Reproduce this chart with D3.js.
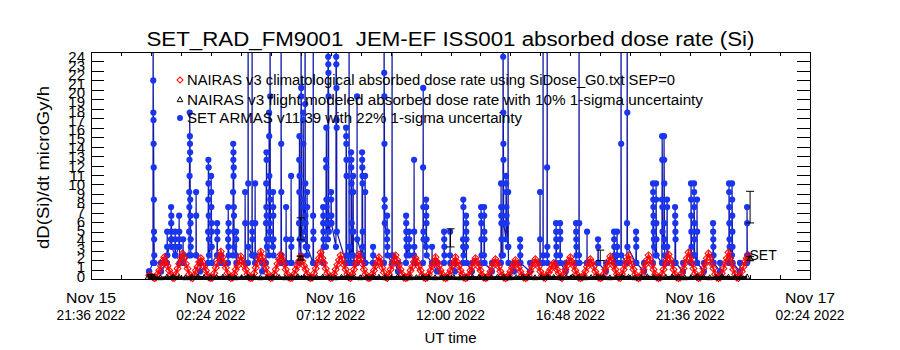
<!DOCTYPE html>
<html>
<head>
<meta charset="utf-8">
<script src="https://cdn.jsdelivr.net/npm/d3@7"></script>
<style>
body { margin: 0; background: #fff; }
text { font-family: "Liberation Sans", Arial, sans-serif; fill: #000; white-space: pre; }
</style>
</head>
<body>
<svg id="chart" width="900" height="350"></svg>
<script>
// ---- data (minutes after 2022-11-16 00:00 UT) ----
var axisStart = "2022-11-15T21:36:00Z";
var axisEnd = "2022-11-17T02:24:00Z";
var dayZero = Date.UTC(2022, 10, 16, 0, 0);

var titleText = "SET_RAD_FM9001  JEM-EF ISS001 absorbed dose rate (Si)";
var yTitle = "dD(Si)/dt microGy/h";
var xTitle = "UT time";
var legendLabels = [
  "NAIRAS v3 climatological absorbed dose rate using SiDose_G0.txt SEP=0",
  "NAIRAS v3 flight modeled absorbed dose rate with 10% 1-sigma uncertainty",
  "SET ARMAS v11.39 with 22% 1-sigma uncertainty"
];
var yTickValues = [0,1,2,3,4,5,6,7,8,9,10,11,12,13,14,15,16,17,18,19,20,21,22,23,24];
var xLabelTimes = ["2022-11-15T21:36:00Z","2022-11-16T02:24:00Z","2022-11-16T07:12:00Z",
  "2022-11-16T12:00:00Z","2022-11-16T16:48:00Z","2022-11-16T21:36:00Z","2022-11-17T02:24:00Z"];
var xMinorStepMin = 72;

// NAIRAS climatological, one value every 4 min from -4 min
var climStartMin = -4, climStepMin = 4;
var nairasClim = [
  0.4,0.3,0.2,0.1,0.15,0.5,0.9,1.4,1.9,
  2.3,1.8,1.4,0.9,0.5,0.15,0.1,0.5,1.1,1.6,2.2,
  2.7,2.2,1.6,1.1,0.5,0.15,0.1,0.4,0.9,1.3,1.8,
  2.2,1.8,1.3,0.9,0.4,0.15,0.1,0.15,0.6,1.2,1.7,2.3,
  2.9,2.3,1.7,1.2,0.6,0.2,0.1,0.15,0.5,1.0,1.4,1.9,
  2.4,1.9,1.4,1.0,0.5,0.15,0.1,0.15,0.6,1.2,1.7,2.3,
  2.9,2.3,1.7,1.2,0.6,0.2,0.1,0.15,0.5,1.0,1.6,2.1,
  2.6,2.1,1.6,1.0,0.5,0.15,0.1,0.15,0.5,1.0,1.4,1.9,
  2.4,1.9,1.4,1.0,0.5,0.15,0.1,0.15,0.6,1.1,1.7,2.2,
  2.8,2.2,1.7,1.1,0.6,0.2,0.1,0.15,0.5,1.0,1.5,2.0,
  2.5,2.0,1.5,1.0,0.5,0.15,0.1,0.5,1.0,1.6,2.1,
  2.6,2.1,1.6,1.0,0.5,0.15,0.1,0.15,0.5,0.9,1.4,1.8,
  2.3,1.8,1.2,0.7,0.2,0.1,0.5,1.0,1.5,2.0,
  2.5,2.0,1.5,1.0,0.5,0.15,0.1,0.15,0.4,0.9,1.3,1.8,
  2.2,1.8,1.3,0.9,0.4,0.15,0.1,0.15,0.5,0.9,1.4,1.8,
  2.3,1.8,1.4,0.9,0.5,0.15,0.1,0.15,0.5,0.9,1.4,1.8,
  2.3,1.8,1.4,0.9,0.5,0.15,0.1,0.15,0.4,0.9,1.3,1.8,
  2.2,1.8,1.3,0.9,0.4,0.15,0.1,0.15,0.4,0.8,1.3,1.7,
  2.1,1.7,1.3,0.8,0.4,0.15,0.1,0.15,0.4,0.8,1.2,1.6,
  2.0,1.6,1.2,0.8,0.4,0.15,0.1,0.15,0.4,0.8,1.3,1.7,
  2.1,1.7,1.3,0.8,0.4,0.15,0.1,0.35,0.7,1.0,1.4,
  1.7,1.4,1.0,0.6,0.2,0.1,0.5,1.0,1.4,1.9,
  2.3,1.8,1.4,0.9,0.5,0.15,0.1,0.15,0.4,0.8,1.3,1.7,
  2.1,1.7,1.3,0.8,0.4,0.15,0.1,0.15,0.5,1.0,1.4,1.9,
  2.4,1.9,1.4,1.0,0.5,0.15,0.1,0.5,1.0,1.5,2.0,
  2.5,2.0,1.5,1.0,0.5,0.15,0.1,0.15,0.5,1.0,1.5,2.0,
  2.5,2.0,1.5,1.0,0.5,0.15,0.1,0.15,0.5,1.0,1.6,2.1,
  2.6,2.1,1.6,1.0,0.5,0.15,0.1,0.15,0.6,1.1,1.7,2.2,
  2.8,2.2,1.7,1.1,0.6,0.2,0.1,0.15,0.5,1.1,1.6,2.2,
  2.7,2.2,1.6,1.1,0.5,0.15,0.1,0.15,0.6,1.1,1.7,2.2,
  2.8,2.2,1.6,1.0,0.5,0.15,0.1,0.3,0.8,1.3,1.8,2.2,2.5
];

// NAIRAS flight modeled, one value every 15 min from -7 min
var flightStartMin = -7, flightStepMin = 15;
var nairasFlight = [
  0.15,0.12,0.1,0.14,0.18,0.12,0.1,0.15,0.2,0.14,0.1,0.12,0.18,0.15,0.1,0.12,
  0.2,0.15,0.1,0.12,0.18,0.14,0.1,0.12,0.2,0.15,0.1,0.14,0.18,0.12,0.1,0.15,
  0.2,0.14,0.1,0.12,0.18,0.15,0.1,0.12,0.18,0.14,0.1,0.12,0.16,0.14,0.1,0.12,
  0.16,0.12,0.1,0.12,0.15,0.12,0.1,0.12,0.16,0.14,0.1,0.12,0.18,0.14,0.1,0.12,
  0.18,0.15,0.1,0.14,0.2,0.15,0.1,0.12,0.2,0.15,0.1,0.14,0.2,0.16,0.1,0.14,
  0.2,0.15,0.1,0.14,0.2,0.16,0.1,0.14,0.22,0.16,0.1,0.14,0.2,0.16,0.12,0.14,0.18
];

// SET ARMAS: bursts [start minute, successive readings], readings 0.3 min apart
var armasStepMin = 0.3;
var armasBursts = [
  [-4.6,[0.8,0.8]],
  [5.0,[1.7,40,21.0,17.6,16.8,14.3,11.8,8.4,5.0,4.2,2.5,1.7]],
  [24.2,[1.7,0.8]],
  [38.6,[1.7,3.4,5.0,2.5]],
  [48.2,[4.2,7.6,5.9,6.7,5.0,4.2,3.4]],
  [57.9,[2.5,5.0,4.2,3.4,2.5]],
  [67.5,[3.4,6.7,5.0,4.2,3.4,1.7]],
  [77.1,[2.5,4.2,1.7]],
  [91.5,[2.5,5.0,9.2,7.6,12.6,10.9,17.6,15.1,14.3,13.4,8.4,6.7,5.9,4.2,3.4,2.5]],
  [108.3,[2.5,9.2,6.7,2.5]],
  [117.9,[1.7,0.8]],
  [137.2,[1.7,5.0,8.4,12.6,10.1,11.8,6.7,4.2,2.5]],
  [144.4,[3.4,10.9,9.2,7.6,5.9,5.0,3.4,1.7]],
  [158.8,[2.5,5.9,5.0,4.2,2.5]],
  [168.4,[1.7,2.5,1.7]],
  [185.2,[1.7,4.2,7.6,5.0,3.4,5.9,2.5]],
  [197.2,[2.5,9.2,14.3,12.6,13.4,10.9,11.8,7.6,6.7,5.0,3.4]],
  [204.4,[2.5,5.0,4.2,1.7]],
  [226.1,[1.7,9.2,5.9,1.7]],
  [233.3,[1.7,38,10.1,3.4]],
  [242.9,[2.5,36,5.9,5.0,4.2,2.5]],
  [250.1,[1.7,10.1,5.9,2.5]],
  [266.9,[1.7,0.8]],
  [276.5,[1.7,5.9,10.1,7.6,13.4,12.6,6.7,4.2,3.4]],
  [283.7,[2.5,17.6,15.1,10.9,9.2,5.9]],
  [286.1,[5.0,40,19.3,8.4,4.2]],
  [293.3,[3.4,9.2,7.6,6.7,4.2,2.5]],
  [312.6,[1.7,37,14.3,9.2,2.5]],
  [324.6,[1.7,7.6,4.2,1.7]],
  [336.6,[1.7,10.9,4.2,3.4,1.7]],
  [355.8,[1.7,5.9,12.6,9.2,15.1,10.9,4.2]],
  [360.6,[2.5,39,20.2,19.3,5.9,4.2]],
  [365.4,[4.2,17.6,16.8,14.3,8.4,7.6]],
  [370.2,[5.0,41,18.5,10.1,6.7,5.9,3.4]],
  [375.0,[2.5,9.2,7.6,3.4]],
  [389.5,[1.7,6.7,36,5.0,4.2,1.7]],
  [413.5,[1.7,7.6,5.9,6.7,5.0,4.2,3.4]],
  [420.7,[3.4,12.6,11.8,16.0,8.4,7.6,5.9]],
  [425.5,[4.2,45,23.5,22.7,21.8,19.3,6.7,5.0]],
  [432.7,[5.9,9.2,8.4,6.7,5.9]],
  [444.7,[3.4,42,23.5,22.7,20.2,16.8,16.0,5.0]],
  [468.8,[1.7,16.0,15.1,14.3,12.6,10.9,2.5]],
  [476.0,[1.7,38,3.4]],
  [480.8,[1.7,13.4,11.8,12.6,10.1,9.2,5.9,5.0,2.5]],
  [485.6,[2.5,10.9,9.2,5.0,1.7]],
  [495.2,[1.7,19.3,4.2]],
  [507.2,[2.5,13.4,12.6,11.8,10.9,10.1,5.0,3.4,2.5]],
  [514.4,[1.7,10.9,9.2,1.7]],
  [533.6,[1.7,3.4,2.5]],
  [560.1,[1.7,38,21.8,19.3,14.3,8.4,7.6,5.9]],
  [567.3,[4.2,6.7,5.0,3.4,2.5]],
  [579.3,[1.7,35,2.5]],
  [593.7,[0.8,1.7]],
  [613.0,[1.7,6.7,5.9,5.0,4.2,3.4,2.5]],
  [620.2,[3.4,5.0,4.2,2.5]],
  [632.2,[2.5,12.6,5.0,3.4,1.7]],
  [653.8,[1.7,11.8,20.2,7.6,5.0,4.2]],
  [661.0,[3.4,8.4,7.6,6.7,5.9,4.2,2.5]],
  [675.4,[1.7,3.4,1.7]],
  [687.5,[0.8,1.7]],
  [704.3,[1.7,5.0,4.2,3.4,2.5]],
  [718.7,[2.5,5.0,1.7]],
  [730.7,[0.8,1.7]],
  [749.9,[1.7,4.2,3.4,8.4,7.6,2.5]],
  [757.1,[3.4,6.7,5.9,5.0,4.2,1.7]],
  [771.5,[0.8,1.7]],
  [793.2,[1.7,7.6,6.7,5.9,4.2,2.5]],
  [800.4,[2.5,7.6,6.7,5.0,4.2,1.7]],
  [819.6,[0.8,1.7]],
  [841.2,[1.7,10.1,7.6,6.7,5.9,4.2,2.5]],
  [846.0,[2.5,40,23.5,17.6,14.3,12.6,5.9]],
  [853.2,[4.2,10.9,10.1,9.2,7.6,6.7,5.9]],
  [858.1,[3.4,38,9.2,3.4,1.7]],
  [872.5,[0.8,1.7]],
  [886.9,[1.7,4.2,3.4,2.5,1.7]],
  [911.0,[0.8,1.7]],
  [934.9,[1.7,9.2,4.2,1.7]],
  [942.2,[1.7,37,2.5]],
  [951.8,[2.5,11.8,36,3.4,1.7]],
  [973.4,[1.7,5.9,5.0,4.2,3.4,2.5]],
  [983.0,[2.5,5.9,5.0,4.2,1.7]],
  [997.0,[0.8,1.7]],
  [1021.5,[1.7,5.9,5.0,4.2,3.4,2.5]],
  [1028.7,[2.5,40,5.9,1.7]],
  [1047.9,[1.7,5.0,1.7]],
  [1074.3,[1.7,4.2,3.4,1.7]],
  [1093.5,[0.8,1.7]],
  [1112.8,[1.7,5.0,4.2,3.4,2.5,1.7]],
  [1120.0,[2.5,5.0,3.4,1.7]],
  [1129.6,[1.7,42,14.3,2.5]],
  [1144.0,[1.7,5.9,39,17.6,3.4]],
  [1165.6,[1.7,5.0,4.2,3.4,1.7]],
  [1185.0,[0.8,1.7]],
  [1206.5,[1.7,10.1,9.2,8.4,7.6,6.7,5.9,5.0,4.2,3.4]],
  [1213.7,[2.5,10.1,8.4,5.9,4.2,2.5]],
  [1228.1,[1.7,8.4,15.1,12.6,7.6,5.0]],
  [1232.9,[3.4,15.1,12.6,10.1,5.9,4.2,2.5]],
  [1240.1,[1.7,8.4,7.6,3.4,1.7]],
  [1259.4,[1.7,7.6,6.7,5.9,5.0,4.2,1.7]],
  [1278.7,[0.8,1.7]],
  [1297.8,[1.7,10.1,8.4,6.7,5.0,3.4,2.5]],
  [1305.0,[2.5,10.1,9.2,7.6,5.9,4.2,2.5]],
  [1312.2,[1.7,8.4,5.0,1.7]],
  [1329.0,[0.8,1.7]],
  [1350.7,[1.7,5.9,5.0,4.2,3.4,2.5,1.7]],
  [1367.6,[0.8,1.7]],
  [1389.1,[1.7,10.1,9.2,7.6,5.9,4.2,3.4]],
  [1396.3,[2.5,10.1,8.4,6.7,5.0,3.4,1.7]],
  [1415.6,[0.8,1.7]],
  [1432.4,[1.7,7.6,5.9,2.5,1.8,2.5]]
];

// points shown with error bars
var setBarMin = [0, 360, 720, 1080, 1440];
var setBarDose = [0.4, 5.3, 4.35, 2.5, 7.6];
var setSigma = 0.22;
var flightBarMin = [360, 1440];
var flightBarDose = [2.2, 2.15];
var flightSigma = 0.10;

// ---- layout ----
var padL = 91, padR = 810, padT = 52, padB = 279;

var svg = d3.select("#chart");

var x = d3.scaleUtc()
    .domain([new Date(axisStart), new Date(axisEnd)])
    .range([padL, padR]);
var y = d3.scaleLinear().domain([0, 24]).range([padB, padT]);

function tm(m) { return new Date(dayZero + m * 60000); }

svg.append("defs").append("clipPath").attr("id", "plotclip")
    .append("rect")
    .attr("x", padL).attr("y", padT)
    .attr("width", padR - padL).attr("height", padB - padT + 8);

var plot = svg.append("g").attr("clip-path", "url(#plotclip)");

// SET ARMAS series
var armas = [];
armasBursts.forEach(function(b) {
    b[1].forEach(function(v, i) {
        armas.push({t: tm(b[0] + i * armasStepMin), v: v});
    });
});

var line = d3.line()
    .x(function(d) { return x(d.t); })
    .y(function(d) { return y(d.v); });

plot.append("path")
    .datum(armas)
    .attr("d", line)
    .attr("fill", "none")
    .attr("stroke", "#1018a8")
    .attr("stroke-width", 1.2);

plot.append("g").selectAll("circle")
    .data(armas.filter(function(d) { return d.v <= 25; }))
    .join("circle")
    .attr("cx", function(d) { return x(d.t); })
    .attr("cy", function(d) { return y(d.v); })
    .attr("r", 3.1)
    .attr("fill", "#1a35f0");

// NAIRAS climatological: red diamonds
var climPts = nairasClim.map(function(v, i) {
    return {t: tm(climStartMin + i * climStepMin), v: v};
});
plot.append("path")
    .datum(climPts)
    .attr("d", line)
    .attr("fill", "none")
    .attr("stroke", "#ff1010")
    .attr("stroke-width", 2.2);
var diamond = d3.symbol(d3.symbolSquare, 24);
plot.append("g").selectAll("path")
    .data(climPts)
    .join("path")
    .attr("d", diamond)
    .attr("transform", function(d) {
        return "translate(" + x(d.t) + "," + y(d.v) + ") rotate(45)";
    })
    .attr("fill", "none")
    .attr("stroke", "#ff0000")
    .attr("stroke-width", 1);

// NAIRAS flight modeled: black triangles
var tri = d3.symbol(d3.symbolTriangle, 14);
var flightPts = nairasFlight.map(function(v, i) {
    return {t: tm(flightStartMin + i * flightStepMin), v: v};
});
plot.append("path")
    .datum(flightPts)
    .attr("d", line)
    .attr("fill", "none")
    .attr("stroke", "#200000")
    .attr("stroke-width", 3);
plot.append("g").selectAll("path")
    .data(flightPts)
    .join("path")
    .attr("d", tri)
    .attr("transform", function(d) { return "translate(" + x(d.t) + "," + y(d.v) + ")"; })
    .attr("fill", "none")
    .attr("stroke", "#000")
    .attr("stroke-width", 1);

// error bars
function errorBars(mins, vals, sigma) {
    var g = plot.append("g").attr("stroke", "#000").attr("stroke-width", 1);
    mins.forEach(function(m, i) {
        var cx = x(tm(m));
        var lo = y(vals[i] * (1 - sigma)), hi = y(vals[i] * (1 + sigma));
        g.append("line").attr("x1", cx).attr("x2", cx).attr("y1", lo).attr("y2", hi);
        g.append("line").attr("x1", cx - 4).attr("x2", cx + 4).attr("y1", lo).attr("y2", lo);
        g.append("line").attr("x1", cx - 4).attr("x2", cx + 4).attr("y1", hi).attr("y2", hi);
    });
}
errorBars(setBarMin, setBarDose, setSigma);
errorBars(flightBarMin, flightBarDose, flightSigma);
flightBarMin.forEach(function(m, i) {
    plot.append("path")
        .attr("d", tri)
        .attr("transform", "translate(" + x(tm(m)) + "," + y(flightBarDose[i]) + ")")
        .attr("fill", "none").attr("stroke", "#000");
});

// SET tag at end of series
var lastPt = armas[armas.length - 1];
svg.append("text")
    .attr("x", x(lastPt.t) + 2)
    .attr("y", y(lastPt.v) + 5)
    .attr("font-size", 14)
    .text("SET");

// ---- axes ----
var frame = svg.append("g").attr("shape-rendering", "crispEdges");
frame.append("rect")
    .attr("x", padL).attr("y", padT)
    .attr("width", padR - padL).attr("height", padB - padT)
    .attr("fill", "none").attr("stroke", "#000");

var minorTicks = d3.range(0, 25).map(function(i) {
    return new Date(new Date(axisStart).getTime() + i * xMinorStepMin * 60000);
});

var xb = frame.append("g").attr("transform", "translate(0," + padB + ")")
    .call(d3.axisBottom(x).tickValues(minorTicks).tickSize(-4).tickFormat(""));
var xt = frame.append("g").attr("transform", "translate(0," + padT + ")")
    .call(d3.axisTop(x).tickValues(minorTicks).tickSize(-4).tickFormat(""));
var yl = frame.append("g").attr("transform", "translate(" + padL + ",0)")
    .call(d3.axisLeft(y).tickValues(yTickValues).tickSize(-13).tickPadding(6).tickFormat(d3.format("d")));
var yr = frame.append("g").attr("transform", "translate(" + padR + ",0)")
    .call(d3.axisRight(y).tickValues(yTickValues).tickSize(-13).tickFormat(""));
[xb, xt, yl, yr].forEach(function(a) {
    a.select(".domain").remove();
    a.selectAll("line").attr("stroke", "#000");
});
yl.selectAll("text")
    .attr("dy", null)
    .attr("y", function(d) { return 2 + 0.3 * d; })
    .attr("font-size", 15)
    .attr("font-family", "Liberation Sans, Arial, sans-serif")
    .attr("fill", "#000");

var fmtDay = d3.utcFormat("%b %d"), fmtHour = d3.utcFormat("%H:%M %Y");
var xl = svg.append("g").attr("text-anchor", "middle").attr("font-size", 15);
xLabelTimes.forEach(function(s) {
    var t = new Date(s);
    xl.append("text").attr("x", x(t)).attr("y", 303)
        .attr("textLength", 50).attr("lengthAdjust", "spacingAndGlyphs")
        .text(fmtDay(t));
    xl.append("text").attr("x", x(t)).attr("y", 320)
        .attr("textLength", 69).attr("lengthAdjust", "spacingAndGlyphs")
        .text(fmtHour(t));
});

svg.append("text")
    .attr("x", (padL + padR) / 2).attr("y", 343)
    .attr("text-anchor", "middle").attr("font-size", 15)
    .text(xTitle);

svg.append("text")
    .attr("transform", "translate(49," + ((padT + padB) / 2 + 2) + ") rotate(-90)")
    .attr("text-anchor", "middle").attr("font-size", 17)
    .attr("textLength", 163).attr("lengthAdjust", "spacingAndGlyphs")
    .text(yTitle);

svg.append("text")
    .attr("x", (padL + padR) / 2).attr("y", 46)
    .attr("text-anchor", "middle").attr("font-size", 20)
    .attr("textLength", 608).attr("lengthAdjust", "spacingAndGlyphs")
    .text(titleText);

// ---- legend ----
var legendY = [80, 100, 118];
var legendW = [488, 516, 335];
var lg = svg.append("g");
lg.append("path").attr("d", d3.symbol(d3.symbolSquare, 18))
    .attr("transform", "translate(180," + legendY[0] + ") rotate(45)")
    .attr("fill", "none").attr("stroke", "#ff0000");
lg.append("path").attr("d", tri)
    .attr("transform", "translate(180," + legendY[1] + ")")
    .attr("fill", "none").attr("stroke", "#000");
lg.append("circle").attr("cx", 180).attr("cy", legendY[2]).attr("r", 3).attr("fill", "#1a35f0");
legendLabels.forEach(function(s, i) {
    lg.append("text")
        .attr("x", 187).attr("y", legendY[i] + 5)
        .attr("font-size", 14)
        .attr("textLength", legendW[i]).attr("lengthAdjust", "spacingAndGlyphs")
        .text(s);
});
</script>
</body>
</html>
